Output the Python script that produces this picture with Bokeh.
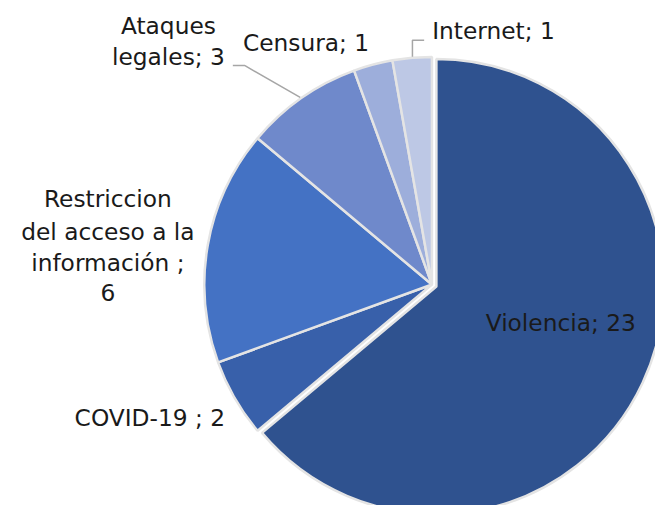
import math
from bokeh.plotting import figure
from bokeh.models import Range1d, ColumnDataSource
from bokeh.core.properties import value
from bokeh.embed import file_html
from bokeh.resources import INLINE

# ---- data ----
categories = ["Violencia", "COVID-19", "Restriccion del acceso a la información", "Ataques legales", "Censura", "Internet"]
counts = [23, 2, 6, 3, 1, 1]
colors = ["#2F528F", "#3860AA", "#4472C4", "#6F89CB", "#9DAEDB", "#BDC8E5"]
label_lines = [
    ["Violencia; 23"],
    ["COVID-19 ; 2"],
    ["Restriccion", "del acceso a la", "información ;", "6"],
    ["Ataques", "legales; 3"],
    ["Censura; 1"],
    ["Internet; 1"],
]

# ---- layout: data coords are reference pixels (x = sx, y = 521 - sy) ----
W, H = 655, 505
SCALE = (W / 671 + H / 521) / 2
def Y(sy):
    return 521 - sy

cx, cy = 442, Y(293)
R = 234
explode = [5, 0, 0, 0, 0, 0]
label_pos = [
    (574, [332]),
    (153, [430]),
    (110, [204, 238, 270, 301]),
    (172, [26, 58]),
    (313, [43]),
    (505, [31]),
]
FONT = "DejaVu Sans"
FS = "%.1fpx" % (24 * SCALE)

p = figure(width=W, height=H, output_backend="svg", toolbar_location=None,
           x_range=Range1d(0, 671), y_range=Range1d(0, 521),
           min_border=0)
p.axis.visible = False
p.grid.visible = False
p.outline_line_color = None
p.background_fill_color = "white"
p.border_fill_color = "white"

total = sum(counts)
k = 2 * math.pi / total
cum = 0
xs, ys, starts, ends = [], [], [], []
for v, e in zip(counts, explode):
    a0 = math.pi / 2 - cum * k
    a1 = math.pi / 2 - (cum + v) * k
    mid = (a0 + a1) / 2
    xs.append(cx + e * math.cos(mid))
    ys.append(cy + e * math.sin(mid))
    starts.append(a1)
    ends.append(a0)
    cum += v

src = ColumnDataSource(dict(x=xs, y=ys, start=starts, end=ends, color=colors, cat=categories))
p.wedge(x="x", y="y", radius=R * SCALE, radius_units="screen", start_angle="start", end_angle="end",
        fill_color="color", line_color="#E4E4E4", line_width=2.5, source=src)

# leader lines
p.line(x=[238, 250, 307], y=[Y(67), Y(67), Y(100)], line_color="#A6A6A6", line_width=1.5)
p.line(x=[422, 422, 434], y=[Y(58), Y(41), Y(41)], line_color="#A6A6A6", line_width=1.5)

tx, ty, tt = [], [], []
for lines, (px, pys) in zip(label_lines, label_pos):
    for line, py in zip(lines, pys):
        tx.append(px)
        ty.append(Y(py))
        tt.append(line)
p.text(x=tx, y=ty, text=tt, text_font=value(FONT), text_font_size=value(FS),
       text_align="center", text_baseline="middle", text_color="#1A1A1A")

open("out.html", "w").write(file_html(p, INLINE))
